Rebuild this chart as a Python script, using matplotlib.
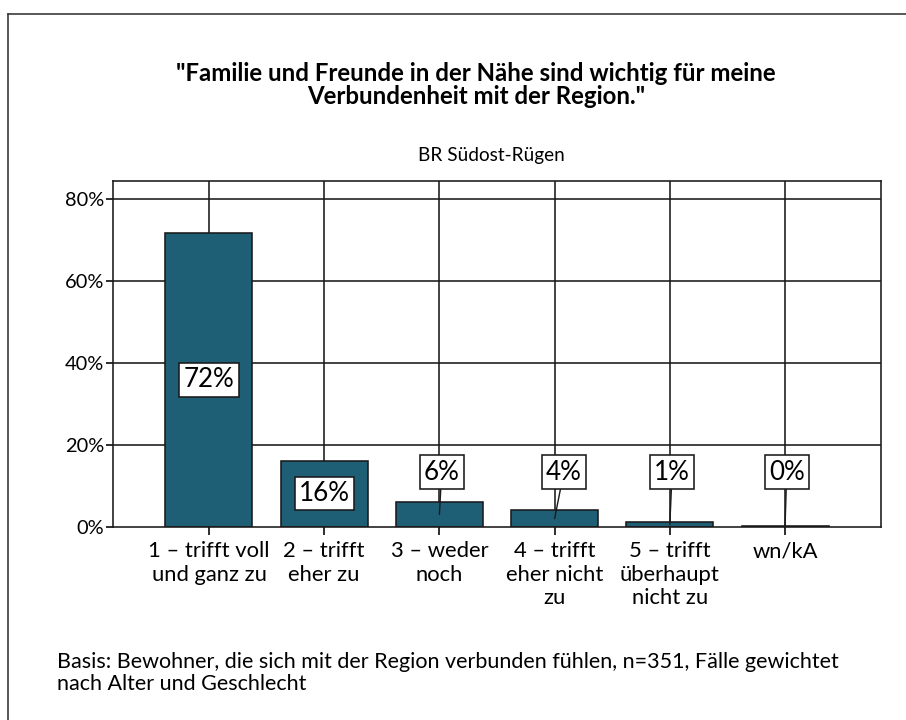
import matplotlib
matplotlib.use("Agg")
import matplotlib.pyplot as plt
from matplotlib.lines import Line2D

categories = ["1 – trifft voll\nund ganz zu", "2 – trifft\neher zu", "3 – weder\nnoch",
              "4 – trifft\neher nicht\nzu", "5 – trifft\nüberhaupt\nnicht zu", "wn/kA"]
values = [71.8, 16.2, 6.2, 4.1, 1.2, 0.3]
value_labels = ["72%", "16%", "6%", "4%", "1%", "0%"]
yticks = [0, 20, 40, 60, 80]
ytick_labels = ["0%", "20%", "40%", "60%", "80%"]
title = "\"Familie und Freunde in der Nähe sind wichtig für meine\nVerbundenheit mit der Region.\""
subtitle = "BR Südost-Rügen"
footer = "Basis: Bewohner, die sich mit der Region verbunden fühlen, n=351, Fälle gewichtet\nnach Alter und Geschlecht"

plt.rcParams['font.family'] = ['Lato', 'DejaVu Sans']

DPI = 72
fig = plt.figure(figsize=(906 / DPI, 720 / DPI), dpi=DPI)
ax = fig.add_axes([113 / 906, 1 - 527 / 720, (881 - 113) / 906, (527 - 181.5) / 720])

bar_color = "#1f5f75"
x = list(range(len(categories)))

ax.set_xlim(-0.833, len(categories) - 1 + 0.833)
ax.set_ylim(0, 84.3)

# grid
for yv in yticks[1:]:
    ax.axhline(yv, color="#1a1a1a", lw=1.6, zorder=1)
for xi in x:
    ax.axvline(xi, color="#1a1a1a", lw=1.6, zorder=1)

ax.bar(x, values, width=0.755, color=bar_color, edgecolor="#1a1a1a", linewidth=1.6, zorder=2)

for s in ax.spines.values():
    s.set_linewidth(1.6)
    s.set_color("#1a1a1a")

ax.set_yticks(yticks)
ax.set_yticklabels(ytick_labels)
ax.set_xticks(x)
ax.set_xticklabels(categories, linespacing=1.22)
ax.tick_params(axis='y', direction='out', length=7, width=1.6, labelsize=20, pad=2)
ax.tick_params(axis='x', direction='out', length=8, width=1.6, labelsize=22, pad=6)

box = dict(boxstyle="square,pad=0.16", facecolor="white", edgecolor="#1a1a1a", linewidth=1.6)
offsets = [0.0, 0.0, 0.02, 0.08, 0.02, 0.015]
for xi, v, lab, dx in zip(x, values, value_labels, offsets):
    if v > 10:
        ax.text(xi, v / 2, lab, ha="center", va="center", fontsize=26, bbox=box, zorder=4)
    else:
        ax.annotate(lab, xy=(xi, v / 2), xytext=(xi + dx, 13.4), ha="center", va="center",
                    fontsize=26, bbox=box, zorder=4,
                    arrowprops=dict(arrowstyle='-', color="#1a1a1a", lw=1.4,
                                    shrinkA=0, shrinkB=0))

fig.text(476 / 906, 1 - 85 / 720, title, ha="center", va="center", fontsize=24,
         fontweight="bold", linespacing=1.02)
fig.text(491 / 906, 1 - 155 / 720, subtitle, ha="center", va="center", fontsize=19)
fig.text(57 / 906, 1 - 673 / 720, footer, ha="left", va="center", fontsize=21.5, linespacing=1.1)

# partial outer frame (top and left)
fig.add_artist(Line2D([8 / 906, 1.0], [1 - 14 / 720, 1 - 14 / 720], color="#333333", lw=1.6))
fig.add_artist(Line2D([8 / 906, 8 / 906], [0, 1 - 14 / 720], color="#333333", lw=1.6))

fig.savefig("out.png", dpi=DPI)
